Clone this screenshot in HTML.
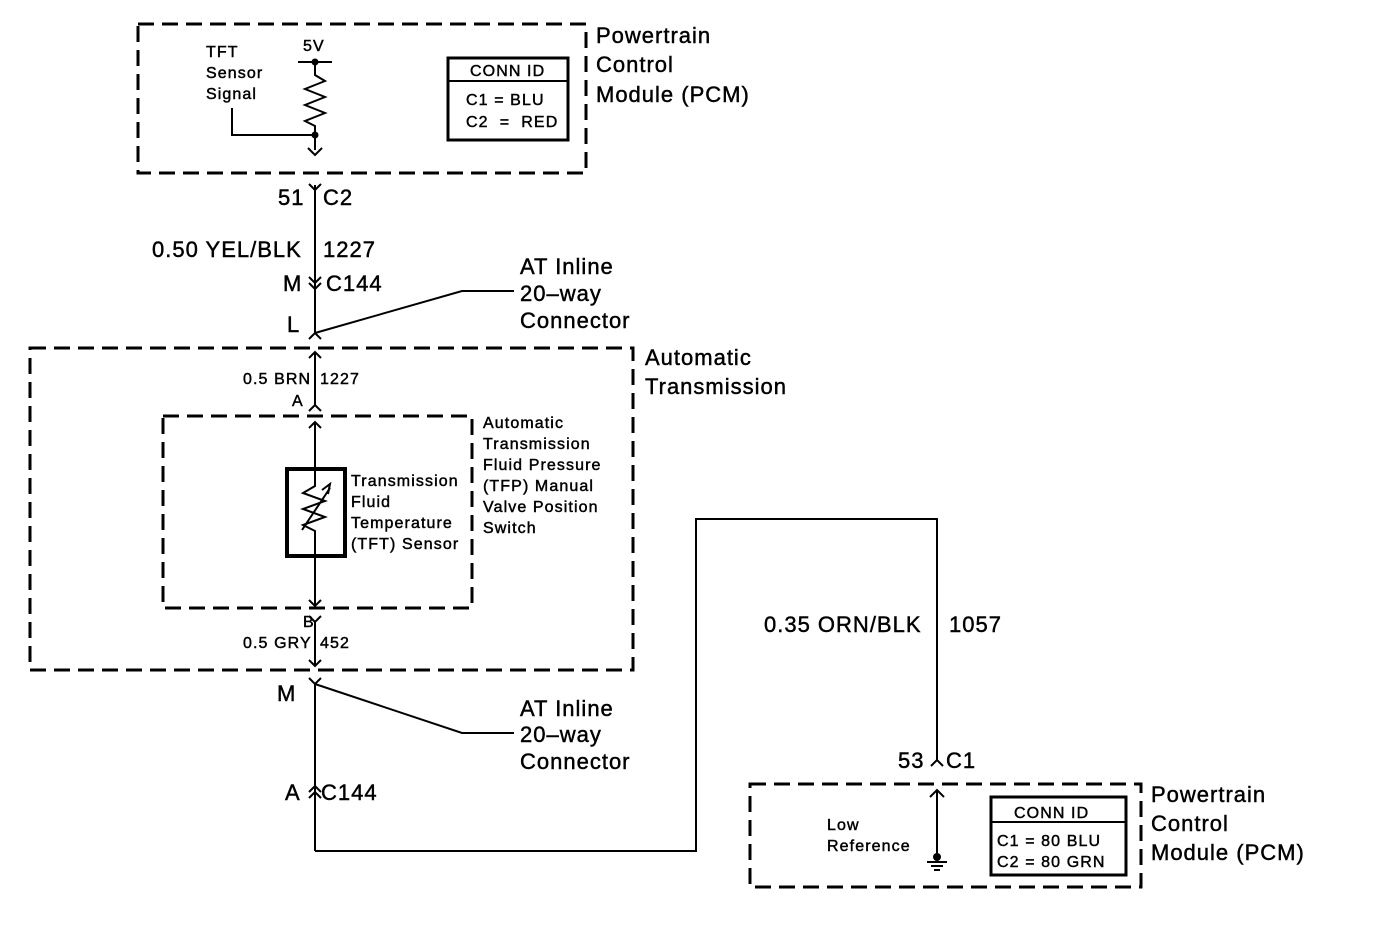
<!DOCTYPE html>
<html><head><meta charset="utf-8"><style>
html,body{margin:0;padding:0;background:#fff}
svg{display:block}
text{font-family:"Liberation Sans",Arial,sans-serif;fill:#000;stroke:#000;stroke-width:0.45}
.s{font-size:16px;letter-spacing:1.1px}
.l{font-size:22px;letter-spacing:1px}
</style></head><body>
<svg width="1400" height="928" viewBox="0 0 1400 928" xmlns="http://www.w3.org/2000/svg">
<g fill="none" stroke="#000">
<g stroke-width="3" stroke-dasharray="16 8">
<rect x="138" y="24" width="448" height="149"/>
<rect x="30" y="348" width="603" height="322"/>
<rect x="163" y="416" width="309" height="192"/>
<rect x="750" y="784" width="391" height="103"/>
</g>
<g stroke-width="2">
<line x1="298" y1="62" x2="332" y2="62"/>
<polyline points="315,62 315,75 325,81 305,89 325,97 305,105 325,113 305,121 315,126 315,150"/>
<polyline points="232,108 232,135 315,135"/>
<polyline points="308,148 315,155 322,148"/>
<line x1="315" y1="185" x2="315" y2="333"/>
<polyline points="309,184 315,190 321,184"/>
<polyline points="309,277 315,283 321,277"/>
<polyline points="309,283 315,289 321,283"/>
<polyline points="309,339 315,333 321,339"/>
<polyline points="315,333 462,291 514,291"/>
<line x1="315" y1="352" x2="315" y2="406"/>
<polyline points="309,358 315,352 321,358"/>
<polyline points="309,411 315,405 321,411"/>
<line x1="315" y1="422" x2="315" y2="469"/>
<polyline points="309,428 315,422 321,428"/>
<line x1="315" y1="556" x2="315" y2="606"/>
<polyline points="309,600 315,606 321,600"/>
<polyline points="309,616 315,622 321,616"/>
<line x1="315" y1="622" x2="315" y2="666"/>
<polyline points="309,660 315,666 321,660"/>
<polyline points="309,678 315,684 321,678"/>
<polyline points="315,684 462,733 514,733"/>
<line x1="315" y1="684" x2="315" y2="851"/>
<polyline points="309,792 315,786 321,792"/>
<polyline points="309,798 315,792 321,798"/>
<polyline points="315,851 696,851 696,519 937,519 937,760"/>
<polyline points="931,766 937,760 943,766"/>
<polyline points="315,469 315,486 303,493 325,501 303,509 325,517 303,525 315,531 315,556"/>
<line x1="302" y1="530" x2="330" y2="488"/>
<polyline points="322,490 330,484 328,494"/>
<line x1="937" y1="790" x2="937" y2="857"/>
<polyline points="930,797 937,790 944,797"/>
<line x1="927" y1="862" x2="947" y2="862"/>
<line x1="931" y1="866" x2="943" y2="866"/>
<line x1="934" y1="870" x2="940" y2="870"/>
</g>
<rect x="287" y="469" width="58" height="87" stroke-width="4"/>
<rect x="448" y="58" width="120" height="82" stroke-width="3"/>
<line x1="448" y1="81" x2="568" y2="81" stroke-width="2"/>
<rect x="991" y="797" width="135" height="78" stroke-width="3"/>
<line x1="991" y1="822" x2="1126" y2="822" stroke-width="2"/>
</g>
<circle cx="315" cy="62" r="3.5"/>
<circle cx="315" cy="135" r="3.5"/>
<circle cx="937" cy="857" r="4"/>

<text class="s" x="206" y="57">TFT</text>
<text class="s" x="206" y="78">Sensor</text>
<text class="s" x="206" y="99">Signal</text>
<text class="s" x="303" y="51">5V</text>
<text class="s" x="470" y="76">CONN ID</text>
<text class="s" x="466" y="105">C1 = BLU</text>
<text class="s" x="466" y="127">C2 &#160;= &#160;RED</text>
<text class="l" x="596" y="43">Powertrain</text>
<text class="l" x="596" y="72">Control</text>
<text class="l" x="596" y="102">Module (PCM)</text>

<text class="l" x="278" y="205">51</text>
<text class="l" x="323" y="205">C2</text>
<text class="l" x="152" y="257">0.50 YEL/BLK</text>
<text class="l" x="323" y="257">1227</text>
<text class="l" x="283" y="291">M</text>
<text class="l" x="326" y="291">C144</text>
<text class="l" x="287" y="332">L</text>
<text class="l" x="520" y="274">AT Inline</text>
<text class="l" x="520" y="301">20–way</text>
<text class="l" x="520" y="328">Connector</text>
<text class="l" x="645" y="365">Automatic</text>
<text class="l" x="645" y="394">Transmission</text>
<text class="s" x="243" y="384">0.5 BRN</text>
<text class="s" x="320" y="384">1227</text>
<text class="s" x="292" y="406">A</text>
<text class="s" x="483" y="428">Automatic</text>
<text class="s" x="483" y="449">Transmission</text>
<text class="s" x="483" y="470">Fluid Pressure</text>
<text class="s" x="483" y="491">(TFP) Manual</text>
<text class="s" x="483" y="512">Valve Position</text>
<text class="s" x="483" y="533">Switch</text>
<text class="s" x="351" y="486">Transmission</text>
<text class="s" x="351" y="507">Fluid</text>
<text class="s" x="351" y="528">Temperature</text>
<text class="s" x="351" y="549">(TFT) Sensor</text>
<text class="s" x="303" y="627">B</text>
<text class="s" x="243" y="648">0.5 GRY</text>
<text class="s" x="320" y="648">452</text>
<text class="l" x="277" y="701">M</text>
<text class="l" x="520" y="716">AT Inline</text>
<text class="l" x="520" y="742">20–way</text>
<text class="l" x="520" y="769">Connector</text>
<text class="l" x="285" y="800">A</text>
<text class="l" x="321" y="800">C144</text>
<text class="l" x="764" y="632">0.35 ORN/BLK</text>
<text class="l" x="949" y="632">1057</text>
<text class="l" x="898" y="768">53</text>
<text class="l" x="946" y="768">C1</text>
<text class="s" x="827" y="830">Low</text>
<text class="s" x="827" y="851">Reference</text>
<text class="s" x="1014" y="818">CONN ID</text>
<text class="s" x="997" y="846">C1 = 80 BLU</text>
<text class="s" x="997" y="867">C2 = 80 GRN</text>
<text class="l" x="1151" y="802">Powertrain</text>
<text class="l" x="1151" y="831">Control</text>
<text class="l" x="1151" y="860">Module (PCM)</text>
</svg>
</body></html>
